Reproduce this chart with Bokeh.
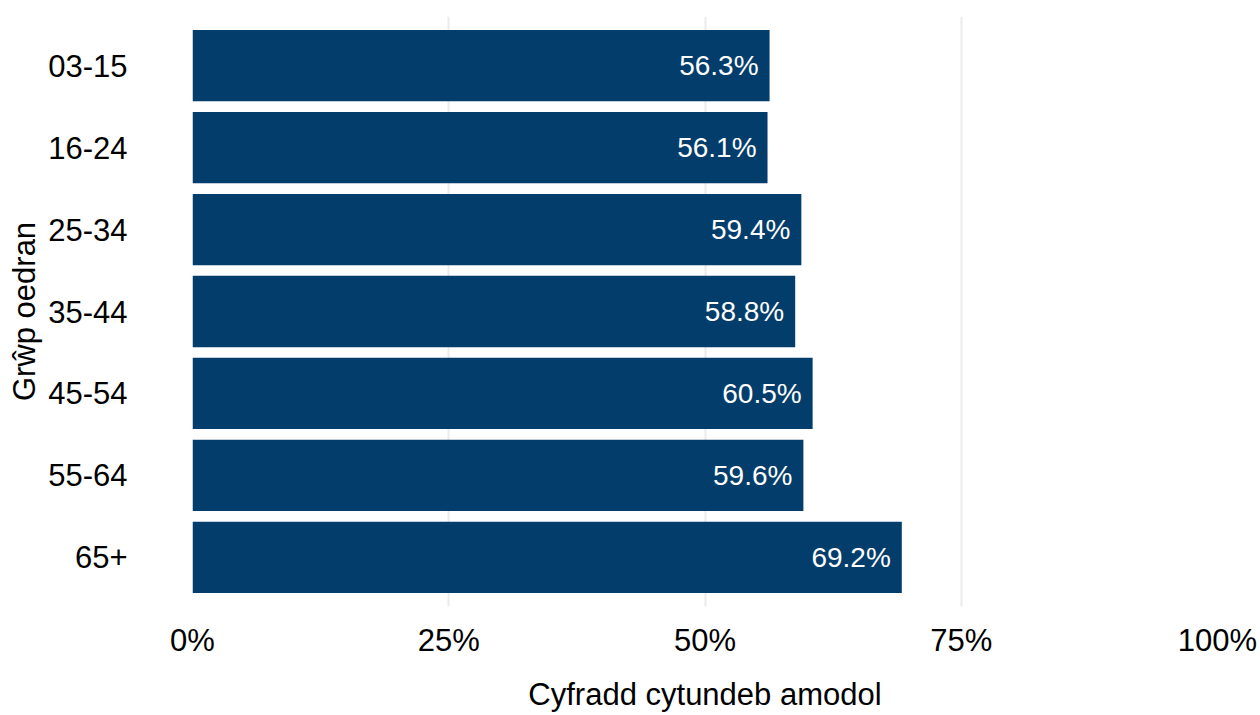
from bokeh.plotting import figure
from bokeh.models import FactorRange, Range1d, FixedTicker, ColumnDataSource
from bokeh.embed import file_html
from bokeh.resources import INLINE

# ---- data ----
age_groups = ["03-15", "16-24", "25-34", "35-44", "45-54", "55-64", "65+"]
rates = [56.3, 56.1, 59.4, 58.8, 60.5, 59.6, 69.2]
x_ticks = [0, 25, 50, 75, 100]
x_tick_labels = ["0%", "25%", "50%", "75%", "100%"]
x_title = "Cyfradd cytundeb amodol"
y_title = "Grŵp oedran"

FONT = "Liberation Sans"
BAR = "#023D6B"

labels = [f"{v:.1f}%" for v in rates]
src = ColumnDataSource(dict(group=age_groups, rate=rates, label=labels))

p = figure(
    width=1260, height=715,
    y_range=FactorRange(factors=list(reversed(age_groups)), range_padding=0.1,
                        range_padding_units="absolute"),
    x_range=Range1d(0, 100),
    output_backend="svg", toolbar_location=None,
    min_border_left=192, min_border_right=43, min_border_top=16, min_border_bottom=109,
)
p.outline_line_color = None
p.background_fill_color = "white"
p.border_fill_color = "white"

p.hbar(y="group", right="rate", left=0, height=0.87, source=src,
       fill_color=BAR, line_color=None)
p.text(x="rate", y="group", text="label", source=src, x_offset=-11,
       text_align="right", text_baseline="middle", text_color="white",
       text_font_size="28px", text_font={"value": FONT})

# grid
p.ygrid.grid_line_color = None
p.xgrid.grid_line_color = "#EBEBEB"
p.xgrid.grid_line_width = 2
p.xaxis.ticker = FixedTicker(ticks=x_ticks)
p.xaxis.major_label_overrides = {t: l for t, l in zip(x_ticks, x_tick_labels)}

for ax in (p.xaxis[0], p.yaxis[0]):
    ax.axis_line_color = None
    ax.major_tick_line_color = None
    ax.minor_tick_line_color = None
    ax.major_tick_out = 0
    ax.major_tick_in = 0
    ax.minor_tick_out = 0
    ax.minor_tick_in = 0
    ax.major_label_text_font = FONT
    ax.major_label_text_font_size = "31px"
    ax.major_label_text_color = "black"
    ax.axis_label_text_font = FONT
    ax.axis_label_text_font_size = "31px"
    ax.axis_label_text_font_style = "normal"
    ax.axis_label_text_color = "black"

p.xaxis.axis_label = x_title
p.yaxis.axis_label = y_title
p.xaxis.major_label_standoff = 16
p.xaxis.axis_label_standoff = 16
p.yaxis.major_label_standoff = 65
p.yaxis.axis_label_standoff = 3

open("out.html", "w").write(file_html(p, INLINE))
